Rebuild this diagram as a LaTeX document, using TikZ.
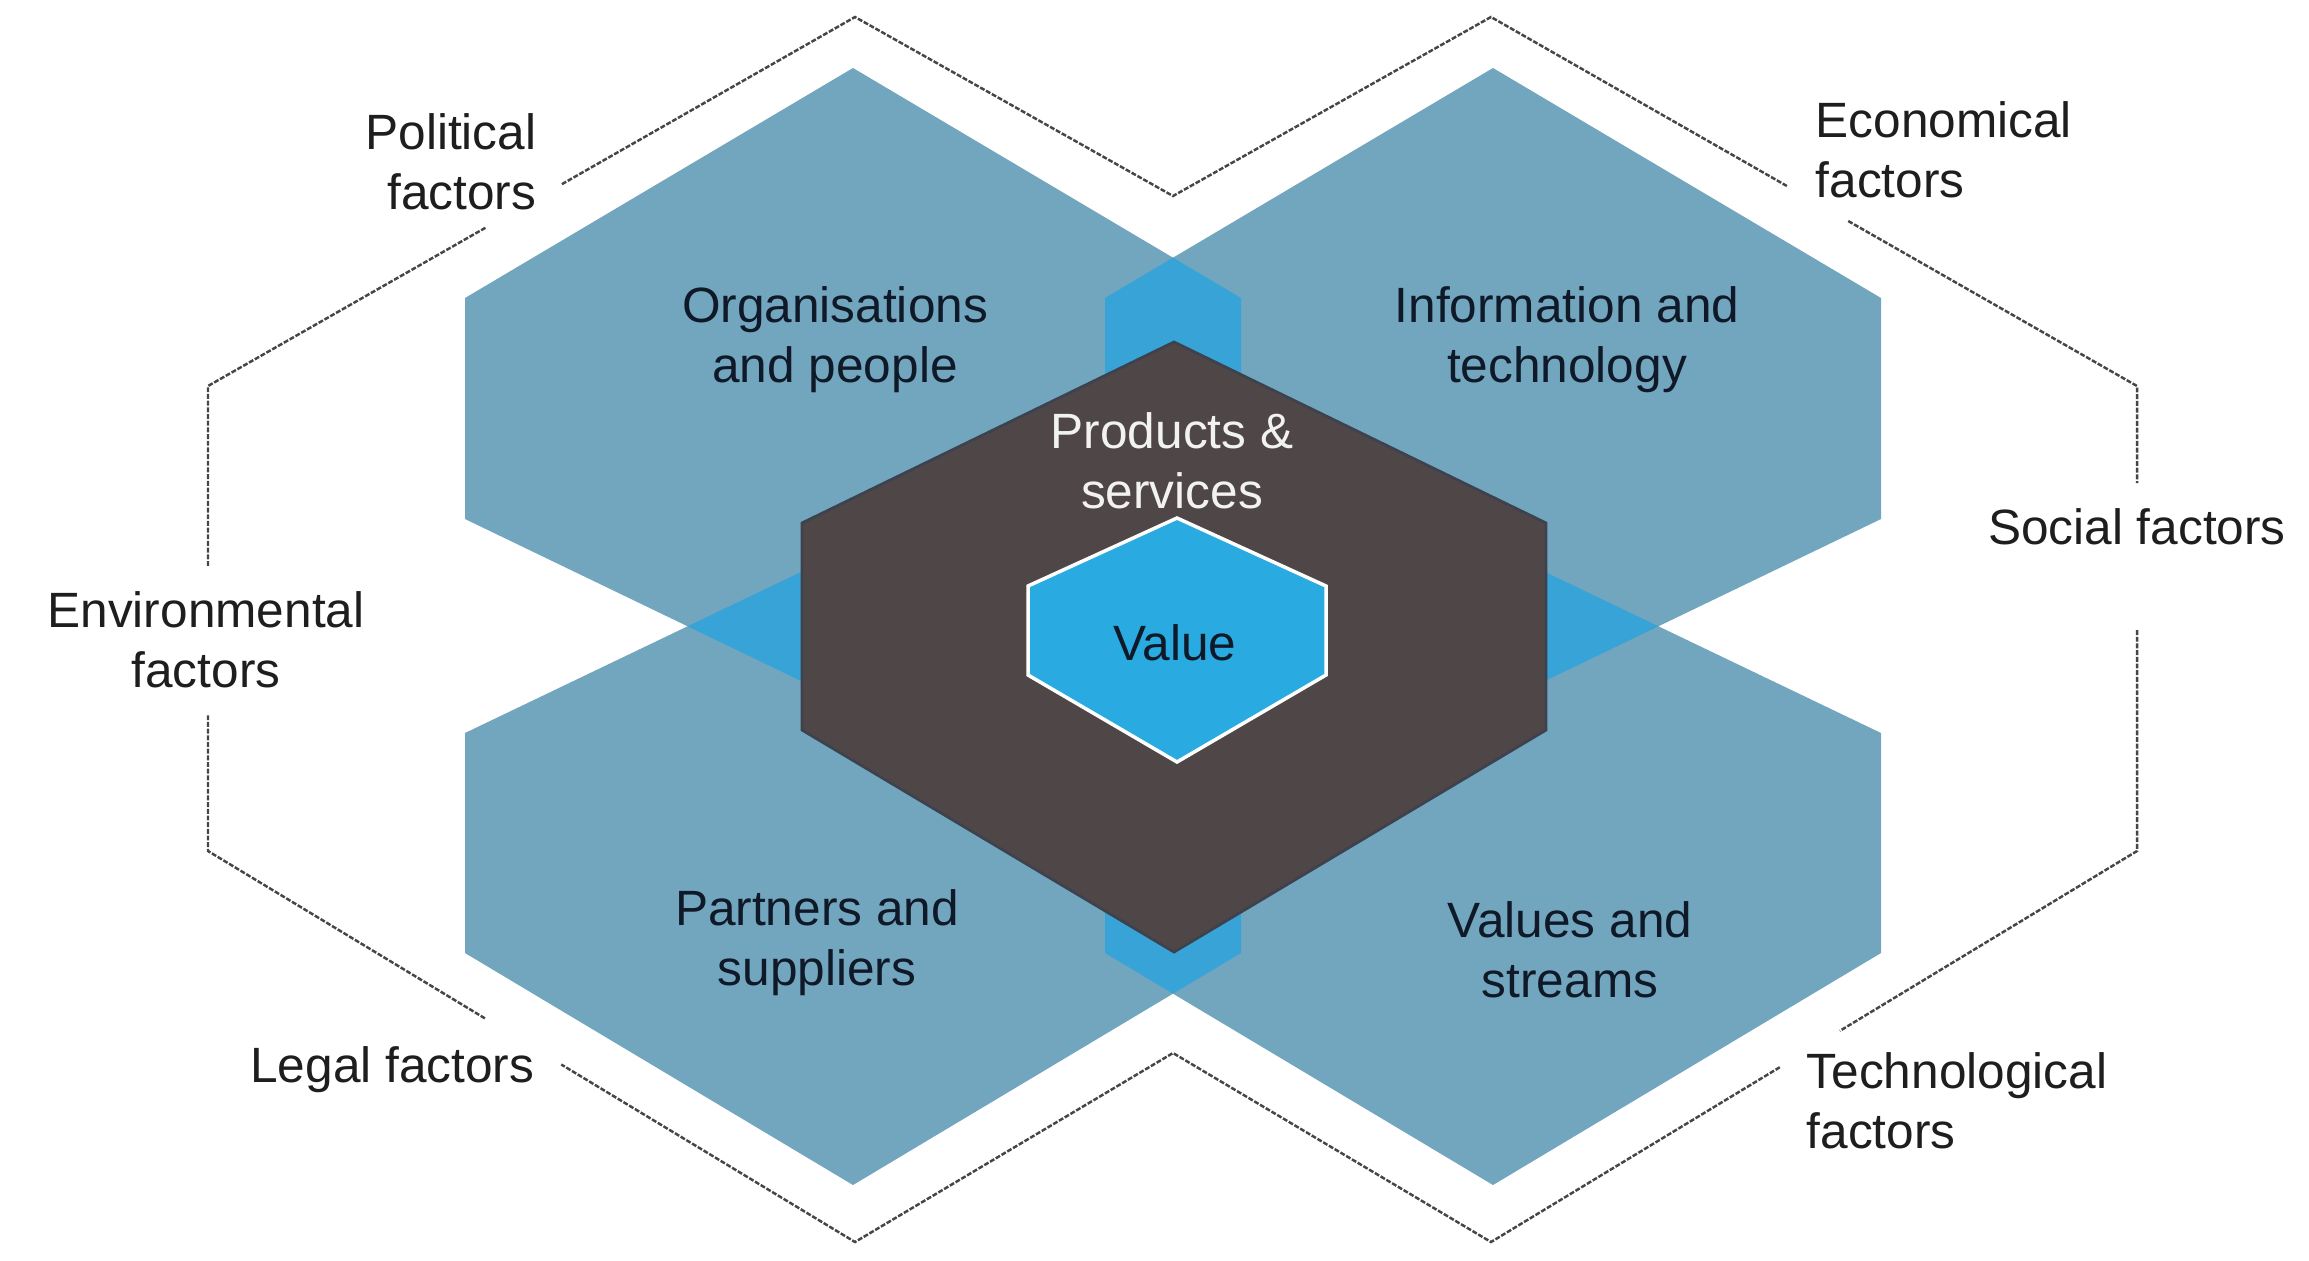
\documentclass[tikz,border=0pt]{standalone}
\usepackage{fontspec}
\setmainfont{Liberation Sans}
\usetikzlibrary{calc}
\definecolor{hexblue}{RGB}{114,166,191}
\definecolor{overblue}{RGB}{55,163,214}
\definecolor{darkhex}{RGB}{79,71,71}
\definecolor{darkedge}{RGB}{62,66,78}
\definecolor{valblue}{RGB}{41,171,226}
\definecolor{framegray}{RGB}{70,70,70}
\definecolor{labtext}{RGB}{30,30,30}
\definecolor{intext}{RGB}{15,25,40}
\definecolor{prodtext}{RGB}{242,242,242}
\begin{document}
\begin{tikzpicture}[x=0.01cm,y=-0.01cm,
  lab/.style={font=\fontsize{14.1}{17.1}\selectfont, text=labtext, inner sep=0pt},
  inlab/.style={font=\fontsize{14.1}{17.1}\selectfont, text=intext, inner sep=0pt, align=center},
  frame/.style={draw=framegray, line width=0.7pt, dash pattern=on 1.4pt off 0.5pt},
  hexfill/.style={fill=hexblue},
  overfill/.style={fill=overblue}]

\useasboundingbox (0,0) rectangle (2309,1260);
\fill[white] (0,0) rectangle (2309,1260);

\def\hexTL{(853,68) -- (1241,298) -- (1241,519) -- (853,706) -- (465,519) -- (465,298) -- cycle}
\def\hexTR{(1493,68) -- (1881,298) -- (1881,519) -- (1493,706) -- (1105,519) -- (1105,298) -- cycle}
\def\hexBL{(853,547) -- (1241,733) -- (1241,953) -- (853,1185) -- (465,953) -- (465,733) -- cycle}
\def\hexBR{(1493,547) -- (1881,733) -- (1881,953) -- (1493,1185) -- (1105,953) -- (1105,733) -- cycle}

% four outer hexagons
\fill[hexfill] \hexTL;
\fill[hexfill] \hexTR;
\fill[hexfill] \hexBL;
\fill[hexfill] \hexBR;

% overlaps
\begin{scope}
  \clip \hexTL;
  \fill[overfill] \hexTR;
  \fill[overfill] \hexBL;
  \fill[overfill] \hexBR;
\end{scope}
\begin{scope}
  \clip \hexBR;
  \fill[overfill] \hexTR;
  \fill[overfill] \hexBL;
\end{scope}
\begin{scope}
  \clip \hexTR;
  \fill[overfill] \hexBL;
\end{scope}

% dark hexagon
\filldraw[fill=darkhex, draw=darkedge, line width=0.8pt]
  (1174,342) -- (1546,523) -- (1546,730) -- (1174,952) -- (802,730) -- (802,523) -- cycle;

% value hexagon
\filldraw[fill=valblue, draw=white, line width=1pt]
  (1177,518) -- (1326,586) -- (1326,675) -- (1177,762) -- (1028,675) -- (1028,586) -- cycle;

% outer frame
\coordinate (o1) at (208,386);
\coordinate (o2) at (855,17);
\coordinate (o3) at (1173,196);
\coordinate (o4) at (1491,17);
\coordinate (o5) at (2137,386);
\coordinate (o6) at (2137,851);
\coordinate (o7) at (1491,1242);
\coordinate (o8) at (1173,1053);
\coordinate (o9) at (855,1242);
\coordinate (o10) at (208,851);

\draw[frame] ($(o1)!0.547!(o2)$) -- (o2) -- (o3) -- (o4) -- ($(o4)!0.458!(o5)$);
\draw[frame] ($(o4)!0.553!(o5)$) -- (o5) -- ($(o5)!0.209!(o6)$);
\draw[frame] ($(o5)!0.525!(o6)$) -- (o6) -- ($(o6)!0.46!(o7)$);
\draw[frame] ($(o6)!0.553!(o7)$) -- (o7) -- (o8) -- (o9) -- ($(o9)!0.454!(o10)$);
\draw[frame] ($(o9)!0.572!(o10)$) -- (o10) -- ($(o10)!0.295!(o1)$);
\draw[frame] ($(o10)!0.613!(o1)$) -- (o1) -- ($(o1)!0.43!(o2)$);

% outer labels
\node[lab, align=right, anchor=east] (pol) at (537,162) {Political\\factors};
\node[lab, align=left, anchor=west] (eco) at (1815,150) {Economical\\factors};
\node[lab] (soc) at (2137,527) {Social factors};
\node[lab, align=center] (env) at (206,640) {Environmental\\factors};
\node[lab, anchor=east] (leg) at (535,1070) {Legal factors};
\node[lab, align=left, anchor=west] (tec) at (1806,1101) {Technological\\factors};

% inner labels
\node[inlab] (org) at (835,340) {Organisations\\and people};
\node[inlab] (inf) at (1567,340) {Information and\\technology};
\node[inlab] (par) at (817,943) {Partners and\\suppliers};
\node[inlab] (vst) at (1570,950) {Values and\\streams};
\node[inlab, text=prodtext] (pro) at (1172,461) {Products \&\\services};
\node[inlab] (val) at (1175,643) {Value};
\end{tikzpicture}
\end{document}
